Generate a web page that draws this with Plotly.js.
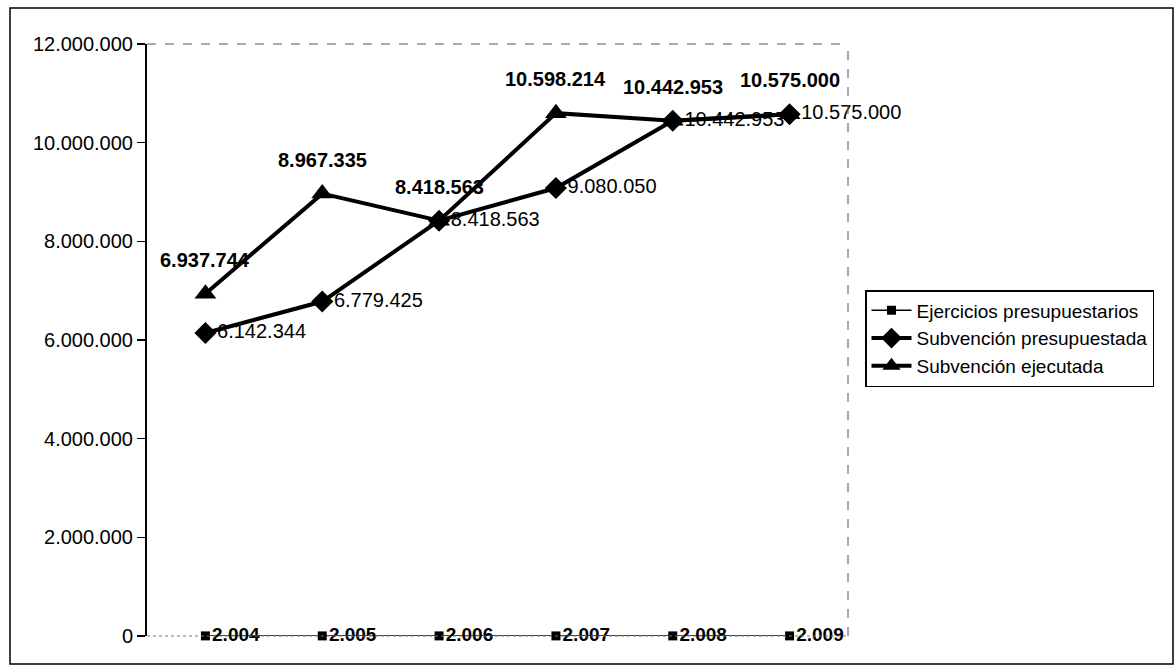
<!DOCTYPE html>
<html><head><meta charset="utf-8">
<script src="https://cdn.plot.ly/plotly-3.0.1.min.js"></script>
<style>html,body{margin:0;padding:0;background:#fff}</style></head>
<body>
<div id="chart" style="width:1175px;height:667px"></div>
<script>
const categories = ['2004','2005','2006','2007','2008','2009'];
const ejercicios = [2004, 2005, 2006, 2007, 2008, 2009];
const presupuestada = [6142344, 6779425, 8418563, 9080050, 10442953, 10575000];
const ejecutada = [6937744, 8967335, 8418563, 10598214, 10442953, 10575000];
const yTicks = [0, 2000000, 4000000, 6000000, 8000000, 10000000, 12000000];
const seriesNames = ['Ejercicios presupuestarios', 'Subvención presupuestada', 'Subvención ejecutada'];

function fmt(v){ return String(v).replace(/\B(?=(\d{3})+(?!\d))/g, '.'); }

const W = 1175, H = 667;
const M = {l: 147, r: 327, t: 44, b: 31};
const pw = W - M.l - M.r, ph = H - M.t - M.b;
const px2x = p => (p - M.l) / pw;
const py2y = p => (H - M.b - p) / ph;
const FONT = 'Liberation Sans, Arial, sans-serif';

const traces = [
  {
    x: categories, y: ejercicios, name: seriesNames[0], type: 'scatter', mode: 'lines+markers+text',
    line: {color: '#000', width: 1.5},
    marker: {symbol: 'square', size: 9, color: '#000'},
    text: ejercicios.map(fmt), textposition: 'middle right',
    textfont: {family: FONT, size: 19, color: '#000', weight: 'bold'},
    cliponaxis: false
  },
  {
    x: categories, y: presupuestada, name: seriesNames[1], type: 'scatter', mode: 'lines+markers+text',
    line: {color: '#000', width: 4},
    marker: {symbol: 'diamond', size: 17, color: '#000'},
    text: presupuestada.map(fmt), textposition: 'middle right',
    textfont: {family: FONT, size: 20, color: '#000'},
    cliponaxis: false
  },
  {
    x: categories, y: ejecutada, name: seriesNames[2], type: 'scatter', mode: 'lines+markers',
    line: {color: '#000', width: 4},
    marker: {symbol: 'triangle-up', size: 19, color: '#000'},
    cliponaxis: false
  }
];

const annotations = ejecutada.map((v, i) => ({
  x: i, y: v, xref: 'x', yref: 'y', text: fmt(v), showarrow: false,
  yshift: 34, font: {family: FONT, size: 20, color: '#000', weight: 'bold'}
}));

const shapes = [
  {type: 'rect', xref: 'paper', yref: 'paper', x0: px2x(10), x1: px2x(1173), y0: py2y(664), y1: py2y(8),
   line: {color: '#000', width: 1.5}},
  {type: 'line', xref: 'paper', yref: 'paper', x0: 0, x1: 1, y0: 1, y1: 1, line: {color: '#555', width: 1, dash: 'dash'}},
  {type: 'line', xref: 'paper', yref: 'paper', x0: 1, x1: 1, y0: 0, y1: 1, line: {color: '#555', width: 1, dash: 'dash'}},
  {type: 'line', xref: 'paper', yref: 'paper', x0: 0, x1: 1, y0: 0, y1: 0, line: {color: '#777', width: 1, dash: 'dot'}}
];

const layout = {
  width: W, height: H, margin: M,
  paper_bgcolor: '#fff', plot_bgcolor: '#fff',
  font: {family: FONT, color: '#000'},
  showlegend: true,
  legend: {
    x: px2x(865), y: py2y(290), xanchor: 'left', yanchor: 'top',
    bordercolor: '#000', borderwidth: 1.5, bgcolor: '#fff', itemwidth: 40,
    font: {family: FONT, size: 19, color: '#000'}, tracegroupgap: 0
  },
  xaxis: {
    type: 'category', range: [-0.5, 5.5], showticklabels: false, ticks: '',
    showgrid: false, zeroline: false, showline: false, fixedrange: true
  },
  yaxis: {
    range: [0, 12000000], tickvals: yTicks, ticktext: yTicks.map(fmt),
    showline: true, linecolor: '#000', linewidth: 2,
    ticks: 'outside', ticklen: 8, tickwidth: 1.5, tickcolor: '#000',
    showgrid: false, zeroline: false,
    tickfont: {family: FONT, size: 20, color: '#000'}, fixedrange: true
  },
  annotations: annotations,
  shapes: shapes
};

Plotly.newPlot('chart', traces, layout, {displayModeBar: false, staticPlot: true});
</script>
</body></html>
